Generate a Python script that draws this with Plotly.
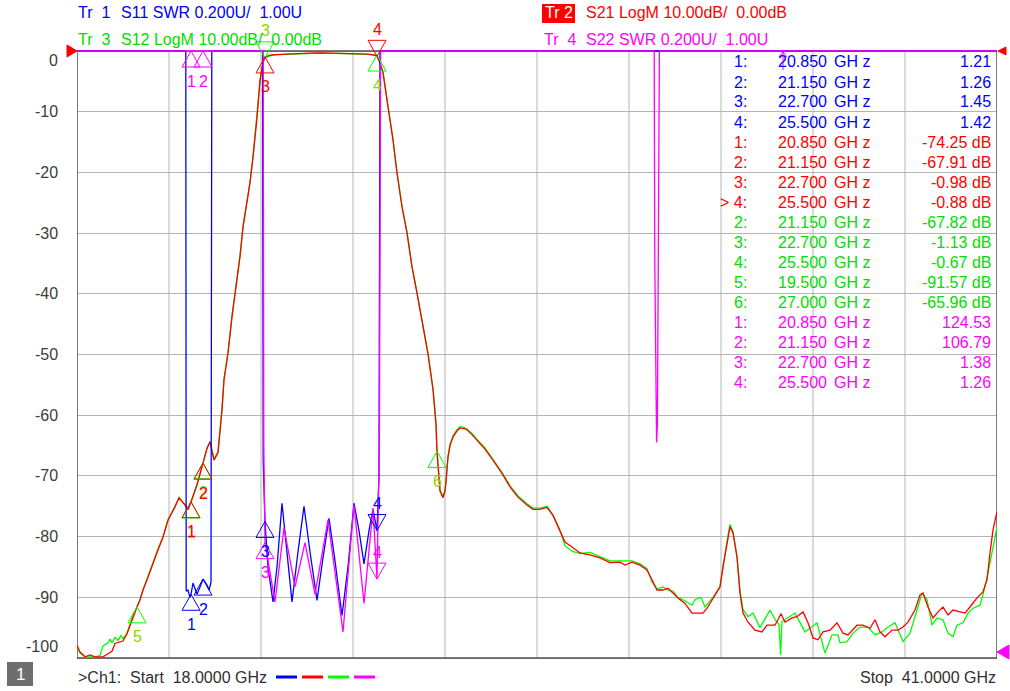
import numpy as np
import plotly.graph_objects as go

# ---- channel setup as shown on the screen ----
F_START, F_STOP = 18.0, 41.0        # GHz
N_DIV = 10
DB_REF, DB_PER_DIV = 0.0, 10.0      # Tr2 / Tr3 LogM, reference on the top line
SWR_REF, SWR_PER_DIV = 1.0, 0.2     # Tr1 / Tr4 SWR, reference on the bottom line
ABOVE = 10.0                        # SWR value that is off the top of the screen

# ---- Tr2 S21 (dB) ----
S21_F = [18.000, 18.075, 18.200, 18.325, 18.450, 18.650, 18.775, 18.875, 18.950, 19.025,
         19.150, 19.250, 19.325, 19.400, 19.500, 19.575, 19.650, 19.775, 19.900, 20.025,
         20.150, 20.275, 20.450, 20.550, 20.700, 20.775, 20.850, 21.000, 21.150, 21.250,
         21.325, 21.425, 21.525, 21.625, 21.675, 21.775, 21.875, 21.975, 22.075, 22.150,
         22.250, 22.325, 22.400, 22.500, 22.575, 22.650, 22.700, 22.825, 22.950, 23.200,
         23.500, 23.800, 24.100, 24.400, 24.700, 24.900, 25.100, 25.300, 25.450, 25.500,
         25.575, 25.650, 25.775, 25.900, 26.000, 26.125, 26.250, 26.375, 26.500, 26.650,
         26.775, 26.900, 26.940, 26.975, 27.000, 27.040, 27.075, 27.150, 27.200, 27.225,
         27.250, 27.275, 27.325, 27.400, 27.500, 27.575, 27.675, 27.750, 27.875, 28.000,
         28.200, 28.400, 28.625, 28.825, 29.025, 29.250, 29.400, 29.575, 29.750, 29.900,
         30.075, 30.200, 30.375, 30.575, 30.825, 31.075, 31.325, 31.575, 31.700, 31.875,
         32.075, 32.250, 32.375, 32.500, 32.650, 32.775, 32.900, 33.025, 33.200, 33.375,
         33.525, 33.650, 33.750, 33.900, 34.075, 34.150, 34.250, 34.325, 34.400, 34.500,
         34.575, 34.650, 34.775, 34.950, 35.125, 35.250, 35.450, 35.600, 35.700, 35.875,
         36.000, 36.150, 36.275, 36.400, 36.525, 36.650, 36.825, 37.000, 37.150, 37.275,
         37.500, 37.650, 37.825, 37.950, 38.075, 38.200, 38.375, 38.525, 38.650, 38.775,
         38.950, 39.075, 39.150, 39.275, 39.400, 39.525, 39.650, 39.775, 39.900, 40.075,
         40.200, 40.325, 40.500, 40.650, 40.750, 40.825, 40.900, 41.000]
S21_DB = [-97.9, -99.0, -99.8, -99.5, -99.8, -99.8, -99.3, -98.9, -97.6, -97.4,
          -97.2, -96.0, -94.6, -93.2, -91.6, -90.4, -88.8, -86.7, -84.3, -82.2,
          -80.1, -77.3, -75.1, -73.6, -74.8, -75.6, -74.25, -71.5, -67.9, -65.5,
          -64.4, -67.4, -66.2, -59.1, -54.2, -49.8, -43.8, -38.9, -33.9, -29.0,
          -25.0, -21.7, -17.5, -11.0, -4.8, -1.8, -0.98, -0.7, -0.6, -0.5,
          -0.4, -0.35, -0.3, -0.35, -0.45, -0.4, -0.4, -0.5, -0.7, -0.88,
          -2.0, -3.6, -9.2, -14.7, -20.1, -25.7, -30.0, -35.6, -39.9, -45.5,
          -49.9, -55.8, -58.5, -61.5, -66.0, -70.0, -72.5, -73.6, -72.5, -71.0,
          -68.0, -66.9, -65.0, -63.6, -62.6, -62.1, -62.2, -62.4, -63.2, -64.1,
          -65.6, -67.4, -69.6, -71.8, -73.5, -74.8, -75.5, -75.5, -75.2, -76.5,
          -79.2, -80.9, -81.7, -82.7, -83.0, -83.5, -84.3, -84.2, -84.7, -84.2,
          -84.7, -85.5, -87.1, -88.8, -88.8, -88.5, -89.3, -90.1, -91.0, -92.6,
          -92.6, -92.6, -91.8, -90.1, -88.3, -85.0, -81.1, -78.4, -79.4, -83.4,
          -89.3, -92.6, -94.1, -95.4, -95.7, -94.6, -94.6, -92.7, -94.1, -93.4,
          -93.2, -92.4, -94.2, -96.7, -97.0, -95.7, -95.4, -94.2, -95.9, -96.2,
          -94.6, -94.6, -95.1, -93.7, -95.7, -96.5, -95.4, -95.4, -94.9, -94.1,
          -92.1, -89.6, -89.3, -91.6, -93.4, -92.4, -91.6, -92.9, -92.1, -92.4,
          -92.6, -91.6, -90.1, -89.1, -87.1, -82.7, -78.9, -75.9]

# ---- Tr3 S12 (dB) ----
S12_F = [18.000, 18.075, 18.200, 18.325, 18.450, 18.575, 18.650, 18.775, 18.825, 18.875,
         18.950, 19.025, 19.100, 19.150, 19.250, 19.325, 19.400, 19.500, 19.575, 19.650,
         19.775, 19.900, 20.025, 20.150, 20.275, 20.450, 20.550, 20.700, 20.775, 20.850,
         21.000, 21.150, 21.250, 21.325, 21.425, 21.525, 21.625, 21.675, 21.775, 21.875,
         21.975, 22.075, 22.150, 22.250, 22.325, 22.400, 22.500, 22.575, 22.650, 22.700,
         22.825, 22.950, 23.200, 23.500, 23.800, 24.100, 24.400, 24.700, 24.900, 25.100,
         25.300, 25.450, 25.500, 25.575, 25.650, 25.775, 25.900, 26.000, 26.125, 26.250,
         26.375, 26.500, 26.650, 26.775, 26.900, 26.940, 26.975, 27.000, 27.040, 27.075,
         27.150, 27.200, 27.225, 27.250, 27.275, 27.325, 27.400, 27.500, 27.575, 27.675,
         27.750, 27.875, 28.000, 28.200, 28.400, 28.625, 28.825, 29.025, 29.250, 29.400,
         29.575, 29.750, 29.900, 30.075, 30.200, 30.375, 30.575, 30.825, 31.075, 31.325,
         31.575, 31.700, 31.875, 32.075, 32.250, 32.375, 32.500, 32.650, 32.775, 32.900,
         33.025, 33.200, 33.375, 33.450, 33.525, 33.600, 33.700, 33.900, 34.075, 34.150,
         34.250, 34.325, 34.400, 34.500, 34.575, 34.650, 34.775, 34.900, 35.075, 35.325,
         35.450, 35.550, 35.590, 35.625, 35.950, 36.200, 36.500, 36.700, 36.875, 37.025,
         37.075, 37.250, 37.400, 37.575, 37.775, 37.950, 38.125, 38.275, 38.450, 38.650,
         38.825, 39.000, 39.125, 39.250, 39.375, 39.500, 39.650, 39.775, 39.900, 40.000,
         40.150, 40.275, 40.400, 40.575, 40.650, 40.775, 40.900, 41.000]
S12_DB = [-98.2, -99.2, -99.8, -99.8, -99.8, -99.6, -98.0, -97.5, -96.9, -97.5,
          -96.6, -97.1, -96.3, -96.8, -95.9, -94.4, -93.0, -91.57, -90.4, -88.8,
          -86.5, -84.2, -82.0, -80.0, -77.2, -75.0, -73.6, -74.7, -75.4, -74.3,
          -71.4, -67.82, -65.4, -64.3, -67.2, -66.0, -59.0, -54.0, -49.6, -43.6,
          -38.8, -33.7, -28.9, -24.9, -21.6, -17.4, -11.0, -5.0, -2.0, -1.13,
          -0.8, -0.65, -0.55, -0.45, -0.4, -0.35, -0.4, -0.5, -0.45, -0.5,
          -0.55, -0.6, -0.67, -1.8, -3.4, -9.0, -14.5, -20.0, -25.5, -29.8,
          -35.4, -39.8, -45.3, -49.8, -55.6, -58.4, -61.3, -65.96, -69.8, -72.3,
          -73.4, -72.3, -70.8, -67.8, -66.7, -64.8, -63.4, -62.4, -61.9, -62.0,
          -62.3, -63.0, -64.0, -65.4, -67.3, -69.4, -71.6, -73.3, -74.6, -75.3,
          -75.3, -75.0, -76.4, -79.0, -81.5, -82.4, -82.8, -82.6, -83.3, -84.0,
          -84.0, -84.0, -84.0, -84.5, -85.3, -87.5, -88.6, -88.3, -88.8, -89.0,
          -90.0, -90.6, -91.3, -90.4, -90.2, -90.0, -91.6, -90.0, -88.2, -84.8,
          -80.8, -78.0, -79.2, -83.2, -89.0, -92.0, -93.2, -92.6, -95.0, -92.1,
          -93.7, -94.5, -99.5, -94.0, -92.6, -95.7, -94.2, -99.2, -96.2, -96.2,
          -97.5, -97.3, -95.9, -94.9, -94.9, -96.2, -95.7, -94.9, -94.2, -97.3,
          -95.9, -92.1, -89.3, -90.4, -94.6, -93.4, -93.7, -95.9, -96.5, -94.6,
          -94.2, -92.6, -91.8, -91.3, -89.6, -86.0, -81.7, -78.4]

# ---- Tr1 S11 (SWR) ----
S11_F = [18.000, 20.720, 20.730, 20.775, 20.825, 20.850, 20.900, 21.000, 21.075, 21.150,
         21.250, 21.300, 21.350, 21.370, 22.640, 22.655, 22.700, 22.775, 22.900, 23.000,
         23.125, 23.250, 23.375, 23.525, 23.675, 23.825, 24.000, 24.150, 24.300, 24.450,
         24.625, 24.775, 24.925, 25.050, 25.175, 25.300, 25.400, 25.500, 25.550, 25.575,
         41.000]
S11_SWR = [ABOVE, ABOVE, 1.22, 1.224, 1.20, 1.21, 1.247, 1.21, 1.234, 1.26,
           1.24, 1.224, 1.25, ABOVE, ABOVE, 1.65, 1.45, 1.30, 1.185, 1.30,
           1.51, 1.35, 1.185, 1.35, 1.50, 1.35, 1.19, 1.33, 1.46, 1.32,
           1.14, 1.30, 1.51, 1.42, 1.31, 1.42, 1.49, 1.42, 1.60, ABOVE,
           ABOVE]

# ---- Tr4 S22 (SWR) ----
S22_F = [18.000, 22.655, 22.670, 22.700, 22.950, 23.175, 23.450, 23.700, 23.950, 24.275,
         24.650, 24.925, 25.175, 25.400, 25.500, 25.560, 25.590, 32.430, 32.445, 32.470,
         32.490, 32.510, 32.525, 32.550, 32.560, 41.000]
S22_SWR = [ABOVE, ABOVE, 1.70, 1.38, 1.185, 1.43, 1.234, 1.38, 1.21, 1.455,
           1.086, 1.504, 1.18, 1.494, 1.26, 1.70, ABOVE, ABOVE, 2.30, 1.77,
           1.71, 1.77, 2.16, 2.88, ABOVE, ABOVE]

# ---- markers (number, stimulus GHz, readout) ----
S11_MK_NUM = [1, 2, 3, 4]
S11_MK_F = [20.85, 21.15, 22.70, 25.50]
S11_MK_VAL = [1.21, 1.26, 1.45, 1.42]

S21_MK_NUM = [1, 2, 3, 4]
S21_MK_F = [20.85, 21.15, 22.70, 25.50]
S21_MK_VAL = [-74.25, -67.91, -0.98, -0.88]

S12_MK_NUM = [1, 2, 3, 4, 5, 6]
S12_MK_F = [20.85, 21.15, 22.70, 25.50, 19.50, 27.00]
S12_MK_VAL = [-74.3, -67.82, -1.13, -0.67, -91.57, -65.96]

S22_MK_NUM = [1, 2, 3, 4]
S22_MK_F = [20.85, 21.15, 22.70, 25.50]
S22_MK_VAL = [124.53, 106.79, 1.38, 1.26]

Y_TICKS = [0, -10, -20, -30, -40, -50, -60, -70, -80, -90, -100]

# ---- screen geometry ----
W, H = 1010, 691
GRID_L, GRID_R = 77, 997
GRID_T, GRID_B = 51, 658
AREA_T, AREA_B = 25, 660
FONT = "Liberation Sans"

BLUE, RED, GREEN, MAGENTA = "#0000ff", "#ff0000", "#00ff00", "#ff00ff"
GREEN_TXT = "#00dd00"
GREEN_MK_TXT = "#8fd400"
GRID_C = "#b4b4b4"
FRAME_C = "#505050"

DB_BOT = DB_REF - N_DIV * DB_PER_DIV
SWR_TOP = SWR_REF + N_DIV * SWR_PER_DIV
px_per_db = (GRID_B - GRID_T) / (DB_REF - DB_BOT)
y_range = [DB_BOT - (AREA_B - GRID_B) / px_per_db, DB_REF + (GRID_T - AREA_T) / px_per_db]


def db_to_swr(d):
    return SWR_REF + (d - DB_BOT) / DB_PER_DIV * SWR_PER_DIV


y2_range = [db_to_swr(y_range[0]), db_to_swr(y_range[1])]


def px_x(x):
    return (x - GRID_L) / (GRID_R - GRID_L)


def px_y(y):
    return (AREA_B - y) / (AREA_B - AREA_T)


def on_screen_swr(v):
    # the analyzer pins off-scale SWR to the top graticule line
    return np.minimum(np.asarray(v, dtype=float), SWR_TOP)


fig = go.Figure()

fig.add_trace(go.Scatter(x=S12_F, y=S12_DB, mode="lines", line=dict(color=GREEN, width=1.3)))
fig.add_trace(go.Scatter(x=S11_F, y=on_screen_swr(S11_SWR), yaxis="y2", mode="lines",
                         line=dict(color=BLUE, width=1.3)))
fig.add_trace(go.Scatter(x=S22_F, y=on_screen_swr(S22_SWR), yaxis="y2", mode="lines",
                         line=dict(color=MAGENTA, width=1.3)))
fig.add_trace(go.Scatter(x=S21_F, y=S21_DB, mode="lines", line=dict(color=RED, width=1.3)))

shapes = []
annotations = []

# graticule
for k in range(1, N_DIV):
    fx = F_START + k * (F_STOP - F_START) / N_DIV
    shapes.append(dict(type="line", xref="x", yref="y", x0=fx, x1=fx, y0=DB_BOT, y1=DB_REF,
                       line=dict(color=GRID_C, width=1), layer="between"))
shapes.append(dict(type="rect", xref="x", yref="y", x0=F_START, x1=F_STOP, y0=DB_BOT, y1=DB_REF,
                   line=dict(color=FRAME_C, width=1.5), layer="between"))


def text(x, y, s, color, anchor="left", size=16):
    annotations.append(dict(xref="paper", yref="paper", x=px_x(x), y=px_y(y), text=s,
                            showarrow=False, xanchor=anchor, yanchor="middle",
                            font=dict(family=FONT, size=size, color=color)))


# y scale labels (top and bottom ones are pushed inside)
for v in Y_TICKS:
    shift = -9 if v == DB_REF else (12 if v == DB_BOT else 0)
    annotations.append(dict(xref="paper", yref="y", x=px_x(60), y=v, yshift=shift, text=str(v),
                            showarrow=False, xanchor="right", yanchor="middle",
                            font=dict(family=FONT, size=16, color="#3c3c3c")))


# markers
def draw_markers(nums, freqs, vals, color, yref, down, label_color, swr=False):
    for n, f, v in zip(nums, freqs, vals):
        yv = float(on_screen_swr(v)) if swr else v
        if n in down:
            path, shift = "M0,0 L-9,16 L9,16 Z", 27
        else:
            path, shift = "M0,0 L-9,-16 L9,-16 Z", -30
        shapes.append(dict(type="path", xref="x", yref=yref, xsizemode="pixel", ysizemode="pixel",
                           xanchor=f, yanchor=yv, path=path, line=dict(color=color, width=1),
                           fillcolor="rgba(0,0,0,0)", layer="above"))
        annotations.append(dict(xref="x", yref=yref, x=f, y=yv, yshift=shift, text=str(n),
                                showarrow=False, xanchor="center", yanchor="middle",
                                font=dict(family=FONT, size=16, color=label_color)))


draw_markers(S12_MK_NUM, S12_MK_F, S12_MK_VAL, GREEN, "y", {3}, GREEN_MK_TXT)
draw_markers(S11_MK_NUM, S11_MK_F, S11_MK_VAL, BLUE, "y2", {4}, BLUE, swr=True)
draw_markers(S22_MK_NUM, S22_MK_F, S22_MK_VAL, MAGENTA, "y2", {4}, MAGENTA, swr=True)
draw_markers(S21_MK_NUM, S21_MK_F, S21_MK_VAL, RED, "y", {4}, RED)

# marker readout table
rows = []
for n, f, v in zip(S11_MK_NUM, S11_MK_F, S11_MK_VAL):
    rows.append((f"{n}:", f, f"{v:.2f}", BLUE))
for n, f, v in zip(S21_MK_NUM, S21_MK_F, S21_MK_VAL):
    rows.append((("> " if n == 4 else "") + f"{n}:", f, f"{v:.2f} dB", RED))
for n, f, v in zip(S12_MK_NUM, S12_MK_F, S12_MK_VAL):
    if n == 1:
        continue  # not listed in the readout
    rows.append((f"{n}:", f, f"{v:.2f} dB", GREEN_TXT))
for n, f, v in zip(S22_MK_NUM, S22_MK_F, S22_MK_VAL):
    rows.append((f"{n}:", f, f"{v:.2f}", MAGENTA))

for i, (num, f, val, c) in enumerate(rows):
    y = 62 + 20 * i
    text(749, y, num, c, "right")
    text(776, y, f"{f:.3f}", c)
    text(832, y, "GH z", c)
    text(993, y, val, c, "right")

# header
text(76, 13, "Tr\u00a0 1", BLUE)
text(119, 13, "S11 SWR 0.200U/\u00a0 1.00U", BLUE)
text(76, 39, "Tr\u00a0 3", GREEN_TXT)
text(119, 39, "S12 LogM 10.00dB/\u00a0 0.00dB", GREEN_TXT)
shapes.append(dict(type="rect", xref="paper", yref="paper", x0=px_x(542), x1=px_x(575),
                   y0=px_y(23), y1=px_y(4), fillcolor=RED, line=dict(width=0)))
text(543, 13, "Tr 2", "#ffffff")
text(584, 13, "S21 LogM 10.00dB/\u00a0 0.00dB", RED)
text(542, 39, "Tr\u00a0 4", MAGENTA)
text(584, 39, "S22 SWR 0.200U/\u00a0 1.00U", MAGENTA)

# reference position triangles and the small stimulus arrow
def tri(points, color):
    d = "M" + " L".join(f"{px_x(x):.5f},{px_y(y):.5f}" for x, y in points) + " Z"
    shapes.append(dict(type="path", xref="paper", yref="paper", path=d, fillcolor=color,
                       line=dict(color=color, width=1)))


tri([(77, 51), (67, 45), (67, 57)], RED)
tri([(998, 51), (1006, 47), (1006, 55)], RED)
tri([(997, 652), (1009, 645), (1009, 659)], MAGENTA)
shapes.append(dict(type="path", xref="paper", yref="paper",
                   path=f"M{px_x(783)},{px_y(70)} L{px_x(783)},{px_y(52)} "
                        f"M{px_x(779)},{px_y(57)} L{px_x(783)},{px_y(52)} L{px_x(787)},{px_y(57)}",
                   line=dict(color=MAGENTA, width=1)))

# status bar
shapes.append(dict(type="rect", xref="paper", yref="paper", x0=px_x(7), x1=px_x(33),
                   y0=px_y(686), y1=px_y(662), fillcolor="#6e6e6e", line=dict(width=0)))
text(20, 674, "1", "#ffffff", "center", 17)
text(76, 677, ">Ch1:\u00a0 Start\u00a0 18.0000 GHz", "#303030")
for x0, c in zip([276, 302, 328, 354], [BLUE, RED, GREEN, MAGENTA]):
    shapes.append(dict(type="line", xref="paper", yref="paper", x0=px_x(x0), x1=px_x(x0 + 21),
                       y0=px_y(677), y1=px_y(677), line=dict(color=c, width=3)))
text(998, 677, "Stop\u00a0 41.0000 GHz", "#303030", "right")

fig.update_layout(
    width=W, height=H,
    margin=dict(l=GRID_L, r=W - GRID_R, t=AREA_T, b=H - AREA_B, pad=0),
    paper_bgcolor="white", plot_bgcolor="white",
    showlegend=False,
    hovermode=False,
    xaxis=dict(range=[F_START, F_STOP], showgrid=False, zeroline=False, showticklabels=False,
               showline=False, ticks=""),
    yaxis=dict(range=y_range, tick0=0, dtick=DB_PER_DIV, showgrid=True, gridcolor=GRID_C,
               gridwidth=1, zeroline=False, showticklabels=False, showline=False, ticks=""),
    yaxis2=dict(range=y2_range, overlaying="y", visible=False),
    shapes=shapes,
    annotations=annotations,
)

# the page should start at the window corner, like the analyzer screen grab
fig.write_html("out.html", config={"displayModeBar": False},
               post_script="document.body.style.margin='0';")
